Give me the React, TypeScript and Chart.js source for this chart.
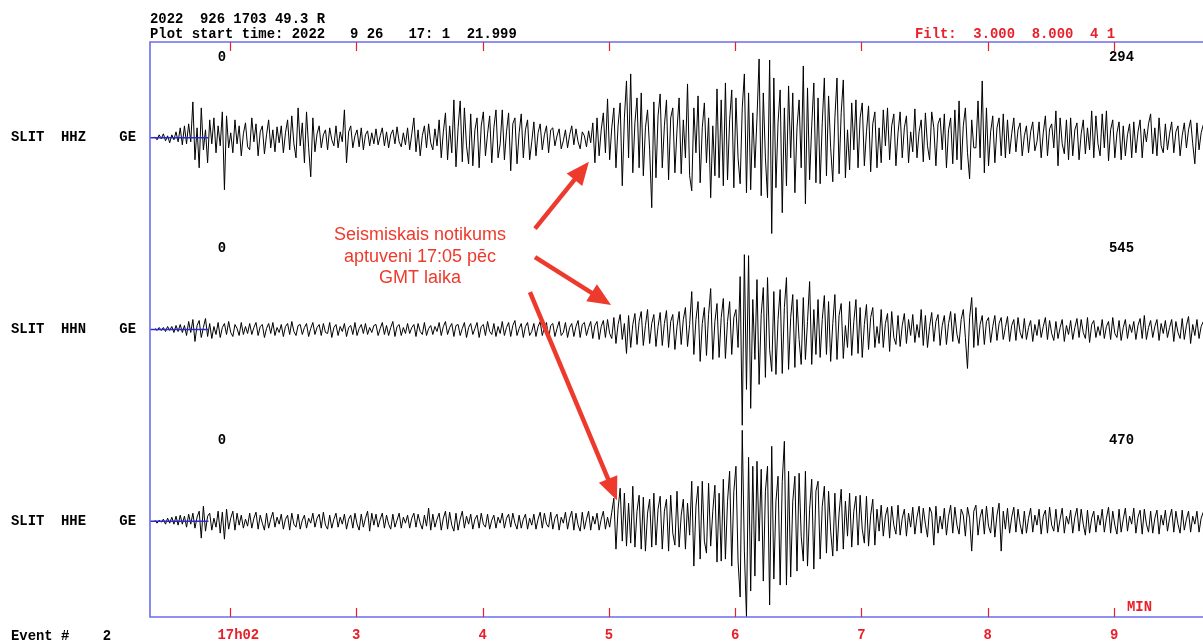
import React, { useEffect, useRef } from 'react';
import { Chart, registerables } from 'chart.js';

Chart.register(...registerables);

// ---------------- data ----------------
const HEADER_LINE_1 = '2022  926 1703 49.3 R';
const HEADER_LINE_2 = 'Plot start time: 2022   9 26   17: 1  21.999';
const FILTER_TEXT = 'Filt:  3.000  8.000  4 1';
const EVENT_TEXT = 'Event #    2';
const UNIT_LABEL = 'MIN';

const STATION_LABELS = ['SLIT  HHZ    GE', 'SLIT  HHN    GE', 'SLIT  HHE    GE'];
const DC_LABELS = ['0', '0', '0'];
const MAX_LABELS = ['294', '545', '470'];

const TICK_MINUTES = [2, 3, 4, 5, 6, 7, 8, 9];
const TICK_LABELS = ['17h02', '3', '4', '5', '6', '7', '8', '9'];

const ANNOTATION_LINES = ['Seismiskais notikums', 'aptuveni 17:05 pēc', 'GMT laika'];

// minutes after 17:00
const PLOT_START_MIN = 1 + 21.999 / 60;
const PLOT_END_MIN = 9.704;
const TRACE_START_MIN = 1.406;
const SAMPLE_INTERVAL_MIN = 1 / 60;
const PRE_MARK_END_MIN = 1.83;

// relative amplitudes (one row = 15 samples = 15 s)
const HHZ_VALUES = [
  1, -2, 3, -1, 4, -3, 2, -5, 3, -2, 6, -4, 10, -7, 12,
  -6, 14, -4, 36, -22, 10, -30, 30, -12, 8, -25, 18, -6, 20, -15,
  12, -8, 26, -52, 22, -10, 5, -15, 18, -6, 12, -18, 4, 15, -9,
  -12, 20, -4, 14, -18, 6, 12, -16, 3, 18, -10, 8, -14, 11, -5,
  12, -15, 5, 18, -12, 22, -6, -20, 30, -8, 15, -25, 26, -10, -39,
  20, -14, 4, 12, -10, 3, 8, -12, 10, -2, -8, 12, -10, 6, -4,
  28, -25, 6, 12, -10, 2, 8, -9, 10, -12, 3, 7, -8, 5, -6,
  9, -7, 2, 10, -8, 6, -10, 3, 8, -6, 11, -4, -9, 5, -7,
  10, -12, 4, 20, -14, 8, -18, 2, 12, -10, 14, -5, -12, 9, -8,
  18, -20, 6, 25, -22, 12, -15, 38, -29, 10, 37, -24, 30, -8, -26,
  24, -28, 8, 20, -30, 12, 26, -18, 4, 22, -25, 10, 28, -20, -6,
  28, -22, 6, 25, -33, 14, 20, -26, 5, 24, -20, 8, 18, -22, -4,
  16, -18, 5, 14, -12, 3, 12, -15, 8, 10, -8, 2, 9, -11, -3,
  8, -10, 3, 12, -7, 9, -4, -11, 6, 2, -9, 7, -5, 15, -25,
  20, -18, 8, 25, -15, 39, -22, 10, 30, -30, 12, 35, -48, 20, 57,
  -20, 64, -35, 15, 40, -30, 45, -38, 10, 28, -12, -70, 36, -40, 22,
  44, -30, 12, 38, -42, 20, 30, -35, 8, 40, -36, 18, -20, 54, -38,
  -53, 30, -15, 42, -45, 10, 35, -25, 20, -60, 12, -38, 49, -40, 38,
  -48, 55, -42, 18, 48, -50, 40, -20, -46, 30, 64, -55, 45, -52, 25,
  -30, 20, 79, -58, 45, -20, -60, 78, -96, 60, -50, 15, 48, -75, 30,
  -48, 52, -20, 45, -55, 10, 38, -30, 72, -66, 50, -42, 12, 55, -45,
  40, -46, 15, 60, -38, 42, -10, -44, 20, 60, -36, 25, 58, -40, 8,
  -32, 35, -12, 38, -30, 20, 35, -28, 6, 32, -34, 14, 26, -30, 10,
  -25, 28, -8, 30, -22, 12, 24, -28, 5, 26, -20, 10, 22, -25, 6,
  -14, 29, -20, 6, 18, -24, 25, -8, -22, 26, 10, -28, 14, 20, -12,
  24, -30, 8, 20, -26, 28, -22, 37, -32, 12, 30, -15, -41, 18, -10,
  -10, 37, -20, 57, -35, 30, -28, 6, 22, -25, 10, 20, -18, 24, -20,
  18, -16, 4, 20, -14, 8, 15, -18, 2, 12, -15, 6, 16, -13, -4,
  16, -20, 5, 22, -18, 9, 14, -10, 27, -28, 20, -6, -16, 18, -22,
  20, -18, 8, 15, -22, 4, 18, -16, 10, -12, 27, -20, 22, -6, -18,
  24, -10, 27, -23, 8, 18, -20, 5, 16, -22, 12, -18, 3, 14, -20,
  16, -15, 6, 18, -20, 9, -4, 14, 24, -16, 10, -18, 20, -8, -15,
  14, -12, 4, 16, -15, 6, 12, -18, 2, 15, -10, 8, 18, -6, -26,
  15, -12, 5, 13, -10, 12, -14, 3, 10, -12, 11, -10, 6, -8, 9,
];

const HHN_VALUES = [
  1, -1, 2, -1, 2, -2, 3, -1, 3, -3, 4, -2, 5, -3, 4,
  -6, 8, -3, 10, -12, 4, 9, -8, 2, 11, -7, 6, -9, 3, -5,
  7, -8, 2, 6, -5, 8, -3, -7, 5, 1, -6, 7, -5, 3, -4,
  6, -5, 2, 7, -6, 3, 5, -8, 1, 6, -4, 7, -6, 2, -3,
  5, -7, 3, 6, -5, 8, -2, -6, 4, 5, -5, 2, 6, -7, 1,
  7, -5, 2, 5, -6, 6, -3, -4, 7, -8, 2, 5, -6, 3, -2,
  6, -7, 2, 4, -5, 7, -6, 1, 5, -4, 6, -5, 2, -3, 4,
  5, -6, 1, 7, -5, 4, -6, 2, 8, -7, 3, 5, -6, 2, -4,
  6, -4, 2, 5, -7, 6, -2, -5, 7, -6, 1, 4, -5, 3, -2,
  7, -6, 3, 8, -5, 2, 6, -7, 4, 5, -6, 1, 7, -8, 2,
  6, -5, 1, 7, -8, 3, 5, -6, 8, -2, -5, 6, -7, 3, -4,
  8, -6, 2, 7, -7, 4, 9, -6, 1, 6, -8, 3, 7, -6, -2,
  6, -7, 3, 8, -6, 2, 7, -9, 4, 6, -7, 1, 8, -6, -3,
  7, -8, 2, 6, -7, 3, 9, -8, 5, 7, -6, 2, 8, -9, 4,
  8, -10, 3, 9, -8, 10, -4, -9, 12, -14, 5, 15, -10, 6, -24,
  14, -18, 5, 16, -15, 8, 18, -16, 4, 20, -14, 6, 15, -17, 3,
  17, -16, 6, 19, -18, 8, 15, -20, 3, 18, -15, 10, 22, -17, 5,
  38, -25, 10, 28, -32, 6, 22, -26, 15, 41, -30, 8, 26, -28, 12,
  31, -29, 8, 28, -25, 12, 20, -18, 53, -97, 75, -60, 74, -79, 30,
  -30, 50, -55, 15, 42, -48, 52, -20, -42, 38, -45, 10, 40, -44, 22,
  52, -40, 12, 35, -38, 30, -10, -35, 32, -30, 8, 48, -35, 20, -25,
  30, -28, 10, 34, -25, 28, -32, 6, 35, -30, 14, 26, -29, 4, -18,
  28, -26, 8, 30, -24, 22, -28, 5, 25, -20, 12, 22, -18, 3, -14,
  20, -18, 6, 16, -22, 18, -8, -15, 14, -17, 4, 16, -14, 10, -6,
  15, -13, 5, -8, 20, -16, 14, -18, 3, 17, -12, 8, 15, -16, 4,
  14, -15, 6, 18, -12, 16, -5, -14, 10, 20, -8, -39, 12, 32, -18,
  22, -16, 5, 14, -15, 8, 12, -13, 3, 14, -11, 6, 12, -10, 2,
  13, -12, 4, 10, -11, 12, -3, -9, 11, -10, 2, 9, -12, 5, -6,
  10, -8, 3, 12, -10, 9, -4, -11, 8, -9, 2, 10, -12, 4, -5,
  9, -10, 2, 11, -8, 10, -3, -9, 12, -13, 5, 9, -8, 3, -6,
  10, -9, 3, 8, -10, 12, -4, -8, 9, -11, 2, 10, -9, 5, -3,
  8, -10, 4, 11, -9, 14, -10, 2, 9, -8, 3, 10, -11, 6, -4,
  9, -8, 2, 10, -12, 8, -3, -9, 11, -10, 4, 13, -14, 5, -6,
  10, -9, 3, 8, -10, 9, -8, 2, 10, -9, 4, 8, -10, 3, -5,
];

const HHE_VALUES = [
  1, -2, 1, -1, 2, -3, 3, -2, 4, -3, 5, -4, 6, -3, 5,
  -6, 7, -3, 8, -7, 4, 10, -17, 15, -10, 5, 8, -9, 3, -6,
  10, -12, 9, -18, 12, -8, 3, 10, -9, 8, -4, 6, -7, 2, -5,
  8, -7, 3, 9, -8, 6, -2, -9, 8, -7, 2, 9, -6, 4, -3,
  7, -8, 2, 6, -9, 8, -3, -6, 7, -8, 1, 6, -7, 3, -2,
  8, -6, 3, 7, -7, 9, -4, -8, 6, -7, 2, 8, -6, 4, -3,
  7, -8, 2, 6, -7, 8, -3, -9, 7, -6, 3, 10, -10, 8, -4,
  7, -6, 2, 8, -7, 6, -3, -8, 7, -6, 1, 8, -7, 4, -2,
  6, -7, 3, 8, -6, 7, -2, -8, 6, -5, 13, -9, 7, -6, 2,
  8, -9, 3, 10, -8, 9, -4, -10, 8, -9, 2, 10, -7, 5, -3,
  7, -8, 2, 6, -7, 8, -3, -6, 7, -8, 1, 6, -7, 4, -2,
  8, -7, 3, 7, -6, 8, -2, -8, 6, -7, 2, 7, -8, 3, -4,
  7, -8, 2, 9, -7, 8, -3, -6, 9, -8, 3, 7, -9, 4, -2,
  9, -8, 3, 10, -9, 8, -4, -10, 9, -8, 2, 10, -9, 5, -3,
  8, -9, 2, 10, -8, 4, -6, 9, 23, -28, 12, 33, -20, 28, -25,
  18, -22, 35, -26, 10, 26, -28, 24, -30, 8, 22, -26, 28, -24, 12,
  25, -28, 10, 22, -30, 26, -12, -24, 30, -26, 6, 22, -28, 18, -14,
  40, -45, 15, 35, -38, 40, -20, -32, 38, -25, 10, 36, -41, 28, -40,
  42, -38, 20, 50, -45, 30, 55, -40, -76, 91, -30, -96, 64, -70, 55,
  -55, 60, -20, 52, -60, 30, 55, -84, 75, -58, 20, 45, -64, 40, 80,
  -64, 50, -56, 20, 45, -50, 48, -15, -40, 50, -45, 12, 42, -48, 30,
  40, -38, 15, 35, -32, 30, -10, -35, 28, -30, 8, 32, -28, 20, -15,
  28, -26, 10, 25, -24, 26, -8, -22, 25, -25, 6, 22, -24, 12, -10,
  16, -15, 5, 14, -17, 15, -4, -13, 16, -14, 3, 12, -15, 8, -6,
  14, -13, 4, 15, -12, 13, -3, -16, 14, 8, -24, 15, -12, 5, -8,
  13, -14, 5, 16, -12, 14, -4, -13, 12, 6, -15, 14, 3, -30, 10,
  16, -14, 4, 12, -13, 15, -5, -12, 14, -16, 6, 18, -30, 10, -8,
  13, -12, 4, 14, -11, 12, -3, -13, 10, -12, 3, 13, -11, 6, -4,
  12, -13, 5, 11, -12, 14, -4, -10, 12, -11, 2, 13, -12, 5, -3,
  11, -12, 4, 13, -10, 12, -3, -14, 11, -12, 3, 10, -11, 6, -4,
  12, -11, 3, 14, -12, 10, -4, -13, 12, -11, 2, 13, -10, 5, -3,
  13, -12, 4, 11, -13, 12, -3, -11, 10, -12, 3, 11, -13, 6, -4,
  11, -10, 3, 12, -11, 10, -3, -12, 11, -9, 2, 10, -11, 5, -3,
  10, -11, 3, 9, -10, 11, -3, -9, 10, -10, 2, 9, -10, 4, -3,
];

const TRACE_VALUES = [HHZ_VALUES, HHN_VALUES, HHE_VALUES];
const AXIS_IDS = ['y1', 'y2', 'y3'];

// ---------------- styles ----------------
const MONO = '"Liberation Mono", "DejaVu Sans Mono", monospace';
const SANS = '"Liberation Sans", Arial, sans-serif';
const RED = '#e8202a';
const ANNOT_RED = '#ee3a2c';
const FRAME_BLUE = '#6c6cf0';
const MARK_BLUE = '#2a2ad0';
const MONO_SIZE = 13.9;

// arrows in (minutes, amplitude on an axis)
const ARROWS = [
  { axis: 'y1', from: [4.415, -91], to: [4.842, -24] },
  { axis: 'y2', from: [4.415, 72.5], to: [5.017, 24.5] },
  { axis: 'y3', from: [4.375, 229.5], to: [5.064, 21] },
];
const ANNOT_MIN = 3.504;
const ANNOT_Y2 = [94.3, 72.4, 51.5];

const seismoPlugin = {
  id: 'seismoDecor',
  afterDraw(chart: any) {
    const { ctx, chartArea: a, scales } = chart;
    const xs = scales.x;
    ctx.save();

    // frame
    ctx.strokeStyle = FRAME_BLUE;
    ctx.lineWidth = 1.6;
    ctx.beginPath();
    ctx.moveTo(a.right + 2, a.top);
    ctx.lineTo(a.left, a.top);
    ctx.lineTo(a.left, a.bottom);
    ctx.lineTo(a.right + 2, a.bottom);
    ctx.stroke();

    // inward ticks
    ctx.strokeStyle = RED;
    ctx.lineWidth = 1.2;
    for (const t of xs.ticks) {
      const px = Math.round(xs.getPixelForValue(t.value)) + 0.5;
      ctx.beginPath();
      ctx.moveTo(px, a.top);
      ctx.lineTo(px, a.top + 9);
      ctx.moveTo(px, a.bottom);
      ctx.lineTo(px, a.bottom - 9);
      ctx.stroke();
    }

    // mono texts
    ctx.font = `bold ${MONO_SIZE}px ${MONO}`;
    ctx.textBaseline = 'middle';
    ctx.textAlign = 'left';
    ctx.fillStyle = '#000';
    ctx.fillText(HEADER_LINE_1, a.left, 19);
    ctx.fillText(HEADER_LINE_2, a.left, 34);
    ctx.fillText(EVENT_TEXT, 11, 636);
    AXIS_IDS.forEach((id, i) => {
      const ys = scales[id];
      ctx.textAlign = 'left';
      ctx.fillText(STATION_LABELS[i], 11, ys.getPixelForValue(0));
      ctx.textAlign = 'center';
      ctx.fillText(DC_LABELS[i], 222, ys.top + 15);
      ctx.textAlign = 'left';
      ctx.fillText(MAX_LABELS[i], 1109, ys.top + 15);
    });
    ctx.fillStyle = RED;
    ctx.textAlign = 'left';
    ctx.fillText(FILTER_TEXT, 915, 34);
    ctx.fillText(UNIT_LABEL, 1127, 607);

    // annotation text
    ctx.fillStyle = ANNOT_RED;
    ctx.font = `18px ${SANS}`;
    ctx.textAlign = 'center';
    const ax = xs.getPixelForValue(ANNOT_MIN);
    ANNOTATION_LINES.forEach((line, i) => {
      ctx.fillText(line, ax, scales.y2.getPixelForValue(ANNOT_Y2[i]));
    });

    // arrows
    ctx.strokeStyle = ANNOT_RED;
    ctx.fillStyle = ANNOT_RED;
    ctx.lineWidth = 4.5;
    for (const ar of ARROWS) {
      const ys = scales[ar.axis];
      const x0 = xs.getPixelForValue(ar.from[0]);
      const y0 = ys.getPixelForValue(ar.from[1]);
      const x1 = xs.getPixelForValue(ar.to[0]);
      const y1 = ys.getPixelForValue(ar.to[1]);
      const dx = x1 - x0;
      const dy = y1 - y0;
      const len = Math.hypot(dx, dy);
      const ux = dx / len;
      const uy = dy / len;
      const headLen = 23;
      const headHalf = 10;
      const bx = x1 - ux * headLen;
      const by = y1 - uy * headLen;
      ctx.beginPath();
      ctx.moveTo(x0, y0);
      ctx.lineTo(bx + ux * 2, by + uy * 2);
      ctx.stroke();
      ctx.beginPath();
      ctx.moveTo(x1, y1);
      ctx.lineTo(bx - uy * headHalf, by + ux * headHalf);
      ctx.lineTo(bx + uy * headHalf, by - ux * headHalf);
      ctx.closePath();
      ctx.fill();
    }

    ctx.restore();
  },
};

export default function App() {
  const ref = useRef<HTMLCanvasElement | null>(null);

  useEffect(() => {
    if (!ref.current) return;
    const traceSets = TRACE_VALUES.map((vals, k) => ({
      data: vals.map((v, i) => ({ x: TRACE_START_MIN + i * SAMPLE_INTERVAL_MIN, y: v })),
      yAxisID: AXIS_IDS[k],
      borderColor: '#000',
      borderWidth: 1,
      pointRadius: 0,
      tension: 0,
      fill: false,
      order: 2,
    }));
    const markSets = AXIS_IDS.map((id) => ({
      data: [
        { x: PLOT_START_MIN, y: 0 },
        { x: PRE_MARK_END_MIN, y: 0 },
      ],
      yAxisID: id,
      borderColor: MARK_BLUE,
      borderWidth: 1.5,
      pointRadius: 0,
      fill: false,
      order: 1,
    }));

    const yScale = (weight: number) => ({
      type: 'linear' as const,
      position: 'left' as const,
      stack: 'traces',
      stackWeight: 1,
      weight,
      min: -96,
      max: 96,
      display: false,
    });

    const chart = new Chart(ref.current, {
      type: 'line',
      data: { datasets: [...traceSets, ...markSets] as any },
      options: {
        animation: false,
        responsive: false,
        devicePixelRatio: 1,
        events: [],
        layout: { padding: { left: 150, top: 42, right: 0, bottom: 0 } },
        plugins: { legend: { display: false }, tooltip: { enabled: false } },
        scales: {
          x: {
            type: 'linear',
            position: 'bottom',
            min: PLOT_START_MIN,
            max: PLOT_END_MIN,
            afterBuildTicks: (s: any) => {
              s.ticks = TICK_MINUTES.map((v) => ({ value: v }));
            },
            afterFit: (s: any) => {
              s.height = 27;
            },
            grid: { display: false, drawTicks: false },
            border: { display: false },
            ticks: {
              autoSkip: false,
              maxRotation: 0,
              padding: 10.5,
              color: RED,
              font: { family: MONO, size: MONO_SIZE, weight: 'bold' },
              callback: (v: any) => {
                const i = TICK_MINUTES.indexOf(Number(v));
                const lab = i >= 0 ? TICK_LABELS[i] : '';
                return i === 0 ? '  ' + lab : lab;
              },
            },
          },
          y1: yScale(3),
          y2: yScale(2),
          y3: yScale(1),
        } as any,
      },
      plugins: [seismoPlugin],
    });
    return () => chart.destroy();
  }, []);

  return (
    <div style={{ position: 'fixed', left: 0, top: 0, width: 1203, height: 644, background: '#fff', overflow: 'hidden' }}>
      <canvas ref={ref} width={1203} height={644} style={{ display: 'block' }} />
    </div>
  );
}
